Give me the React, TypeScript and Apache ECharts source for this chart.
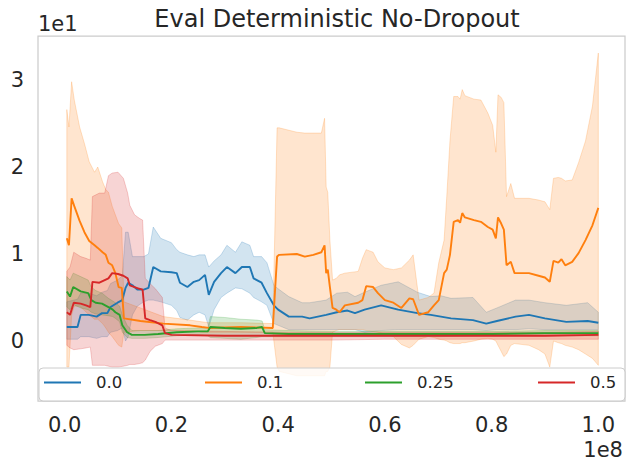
import React, { useEffect, useRef } from "react";
import * as echarts from "echarts";

// ---------- data (x in units of 1e8 steps, y in units of 1e1 return) ----------
const SERIES_NAMES = ["0.0", "0.1", "0.25", "0.5"];
const X_TICKS = [0, 0.2, 0.4, 0.6, 0.8, 1.0];
const X_TICK_LABELS = ["0.0", "0.2", "0.4", "0.6", "0.8", "1.0"];
const Y_TICKS = [0, 1, 2, 3];
const Y_TICK_LABELS = ["0", "1", "2", "3"];
const X_OFFSET_LABEL = "1e8";
const Y_OFFSET_LABEL = "1e1";
const TITLE = "Eval Deterministic No-Dropout";

// dropout 0.0 (blue)
const stepsA = [0.004, 0.024, 0.03, 0.045, 0.06, 0.07, 0.08, 0.086, 0.099, 0.108, 0.114, 0.119, 0.127, 0.136, 0.148, 0.157, 0.166, 0.18, 0.2, 0.21, 0.216, 0.23, 0.242, 0.252, 0.263, 0.27, 0.28, 0.293, 0.304, 0.32, 0.332, 0.347, 0.354, 0.369, 0.379, 0.392, 0.4, 0.42, 0.445, 0.459, 0.49, 0.51, 0.53, 0.544, 0.562, 0.593, 0.625, 0.661, 0.686, 0.705, 0.724, 0.765, 0.79, 0.81, 0.845, 0.87, 0.9, 0.94, 0.98, 1.0];
const meanA = [0.16, 0.16, 0.3, 0.3, 0.28, 0.32, 0.32, 0.39, 0.44, 0.47, 0.61, 0.67, 0.64, 0.59, 0.59, 0.61, 0.85, 0.8, 0.79, 0.78, 0.67, 0.62, 0.68, 0.7, 0.76, 0.53, 0.68, 0.78, 0.85, 0.78, 0.85, 0.85, 0.72, 0.67, 0.55, 0.41, 0.36, 0.28, 0.28, 0.26, 0.3, 0.33, 0.35, 0.32, 0.36, 0.41, 0.36, 0.32, 0.3, 0.28, 0.26, 0.24, 0.2, 0.23, 0.28, 0.3, 0.26, 0.22, 0.23, 0.21];
const lowA = [0.02, 0.02, 0.05, 0.05, 0.03, 0.05, 0.05, 0.1, 0.12, 0.15, 0.0, 0.05, 0.3, 0.4, 0.45, 0.47, 0.47, 0.45, 0.41, 0.35, 0.27, 0.24, 0.3, 0.33, 0.3, 0.16, 0.36, 0.5, 0.55, 0.61, 0.6, 0.55, 0.5, 0.45, 0.41, 0.2, 0.18, 0.13, 0.13, 0.13, 0.13, 0.13, 0.13, 0.13, 0.1, 0.12, 0.13, 0.13, 0.13, 0.13, 0.13, 0.13, 0.12, 0.13, 0.13, 0.14, 0.13, 0.13, 0.13, 0.13];
const highA = [0.45, 0.48, 0.55, 0.55, 0.52, 0.56, 0.58, 0.66, 0.7, 0.75, 1.25, 1.25, 0.97, 0.97, 0.97, 1.0, 1.31, 1.18, 1.13, 1.05, 1.02, 0.99, 0.97, 0.99, 0.99, 0.85, 0.92, 0.99, 1.1, 1.02, 1.14, 1.1, 0.97, 0.97, 0.9, 0.64, 0.6, 0.51, 0.44, 0.44, 0.47, 0.55, 0.56, 0.51, 0.56, 0.64, 0.68, 0.56, 0.51, 0.52, 0.49, 0.5, 0.33, 0.38, 0.47, 0.47, 0.44, 0.41, 0.44, 0.33];

// dropout 0.1 (orange)
const stepsB = [0.004, 0.008, 0.013, 0.018, 0.028, 0.037, 0.046, 0.056, 0.062, 0.071, 0.077, 0.082, 0.089, 0.095, 0.101, 0.107, 0.111, 0.142, 0.185, 0.235, 0.257, 0.27, 0.33, 0.39, 0.398, 0.402, 0.435, 0.45, 0.466, 0.481, 0.487, 0.49, 0.493, 0.497, 0.502, 0.509, 0.515, 0.525, 0.55, 0.558, 0.565, 0.578, 0.587, 0.6, 0.616, 0.631, 0.646, 0.653, 0.664, 0.681, 0.692, 0.701, 0.711, 0.716, 0.722, 0.729, 0.737, 0.741, 0.745, 0.75, 0.767, 0.78, 0.793, 0.802, 0.808, 0.812, 0.818, 0.823, 0.828, 0.836, 0.843, 0.87, 0.888, 0.9, 0.909, 0.916, 0.925, 0.931, 0.938, 0.951, 0.963, 0.976, 0.989, 1.0];
const meanB = [1.18, 1.1, 1.64, 1.55, 1.38, 1.25, 1.15, 1.1, 1.07, 1.02, 0.99, 0.9, 0.87, 0.78, 0.62, 0.61, 0.26, 0.23, 0.2, 0.18, 0.16, 0.15, 0.16, 0.15, 0.97, 0.99, 1.0, 0.97, 0.99, 1.02, 1.1, 0.78, 0.82, 0.62, 0.38, 0.36, 0.33, 0.41, 0.44, 0.47, 0.63, 0.62, 0.55, 0.47, 0.44, 0.38, 0.49, 0.48, 0.3, 0.33, 0.41, 0.47, 0.78, 0.82, 0.99, 1.37, 1.39, 1.36, 1.47, 1.42, 1.39, 1.37, 1.31, 1.28, 1.18, 1.42, 1.35, 1.28, 0.87, 0.91, 0.78, 0.78, 0.75, 0.73, 0.68, 0.92, 0.9, 0.94, 0.87, 0.91, 1.01, 1.16, 1.33, 1.53];
const lowB = [-0.3, -0.3, 0.3, 0.4, 0.4, 0.35, 0.3, 0.25, 0.25, 0.2, 0.15, 0.1, 0.05, 0.0, -0.05, -0.07, 0.1, 0.12, 0.12, 0.12, 0.1, 0.1, 0.1, 0.1, -0.3, -0.35, -0.4, -0.4, -0.4, -0.4, -0.4, -0.35, -0.35, -0.3, 0.1, 0.12, 0.13, 0.13, 0.13, 0.13, 0.12, 0.11, 0.1, 0.08, 0.05, -0.04, -0.08, -0.05, 0.02, 0.05, 0.04, 0.02, 0.01, 0.0, -0.02, -0.03, -0.03, -0.03, -0.02, -0.02, 0.0, 0.02, 0.03, 0.02, 0.0, -0.05, -0.12, -0.18, -0.15, -0.05, -0.03, -0.05, -0.1, -0.15, -0.3, 0.0, -0.02, -0.03, -0.05, -0.07, -0.1, -0.15, -0.2, -0.28];
const highB = [2.66, 2.46, 2.98, 2.77, 2.46, 2.27, 2.06, 1.94, 2.0, 1.83, 1.74, 1.71, 1.55, 1.45, 1.35, 1.3, 0.45, 0.38, 0.28, 0.24, 0.22, 0.21, 0.21, 0.2, 2.45, 2.45, 2.4, 2.39, 2.39, 2.39, 2.56, 1.77, 1.71, 1.16, 0.7, 0.72, 0.76, 0.78, 0.8, 0.95, 1.05, 1.02, 0.91, 0.84, 0.82, 0.84, 0.93, 0.99, 0.47, 0.5, 0.55, 0.9, 1.16, 1.66, 2.3, 2.81, 2.81, 2.78, 2.89, 2.82, 2.78, 2.77, 2.62, 2.48, 2.17, 2.83, 2.8, 2.74, 1.66, 1.81, 1.64, 1.64, 1.62, 1.6, 1.51, 1.87, 1.88, 1.87, 1.84, 1.85, 2.05, 2.3, 2.7, 3.31];

// dropout 0.25 (green)
const stepsC = [0.004, 0.01, 0.016, 0.03, 0.044, 0.05, 0.058, 0.07, 0.082, 0.09, 0.095, 0.103, 0.108, 0.117, 0.126, 0.15, 0.175, 0.21, 0.25, 0.268, 0.273, 0.3, 0.33, 0.36, 0.37, 0.375, 0.42, 0.5, 0.6, 0.7, 0.8, 0.9, 1.0];
const meanC = [0.57, 0.51, 0.62, 0.57, 0.55, 0.47, 0.44, 0.43, 0.39, 0.36, 0.33, 0.3, 0.18, 0.1, 0.07, 0.07, 0.08, 0.1, 0.11, 0.11, 0.16, 0.15, 0.14, 0.15, 0.16, 0.09, 0.08, 0.08, 0.08, 0.08, 0.08, 0.09, 0.09];
const lowC = [0.39, 0.36, 0.42, 0.38, 0.36, 0.33, 0.31, 0.3, 0.29, 0.28, 0.26, 0.22, 0.1, 0.04, 0.03, 0.03, 0.04, 0.06, 0.07, 0.06, 0.04, 0.03, 0.02, 0.04, 0.05, 0.05, 0.05, 0.05, 0.05, 0.05, 0.06, 0.06, 0.06];
const highC = [0.74, 0.7, 0.78, 0.74, 0.7, 0.62, 0.58, 0.55, 0.49, 0.46, 0.44, 0.4, 0.3, 0.18, 0.12, 0.12, 0.12, 0.14, 0.15, 0.15, 0.28, 0.27, 0.25, 0.24, 0.23, 0.13, 0.12, 0.11, 0.11, 0.11, 0.11, 0.12, 0.12];

// dropout 0.5 (red)
const stepsD = [0.004, 0.01, 0.017, 0.03, 0.04, 0.048, 0.052, 0.065, 0.075, 0.082, 0.089, 0.1, 0.11, 0.118, 0.122, 0.131, 0.14, 0.146, 0.151, 0.16, 0.17, 0.183, 0.188, 0.2, 0.3, 0.4, 0.5, 0.6, 0.7, 0.8, 0.9, 1.0];
const meanD = [0.33, 0.3, 0.44, 0.43, 0.41, 0.39, 0.68, 0.67, 0.7, 0.72, 0.78, 0.77, 0.75, 0.72, 0.64, 0.62, 0.6, 0.59, 0.26, 0.24, 0.22, 0.18, 0.09, 0.07, 0.06, 0.06, 0.06, 0.06, 0.06, 0.06, 0.06, 0.07];
const lowD = [-0.05, -0.08, -0.1, -0.09, -0.08, -0.07, -0.28, -0.28, -0.28, -0.29, -0.3, -0.3, -0.29, -0.28, -0.27, -0.27, -0.26, -0.25, -0.22, -0.12, -0.06, -0.03, 0.01, 0.01, 0.01, 0.01, 0.01, 0.02, 0.02, 0.02, 0.02, 0.02];
const highD = [0.8, 0.85, 1.02, 0.97, 0.95, 0.93, 1.66, 1.7, 1.7, 1.9, 1.93, 1.94, 1.87, 1.7, 1.56, 1.45, 1.41, 1.39, 0.72, 0.66, 0.6, 0.5, 0.15, 0.12, 0.11, 0.1, 0.1, 0.1, 0.1, 0.1, 0.1, 0.11];

// ---------- styling ----------
const COLORS = ["#1f77b4", "#ff7f0e", "#2ca02c", "#d62728"];
const TEXT = "#262626";
const FONT = "DejaVu Sans";
const LEGEND_LEFT = [44, 205, 365, 538];

function rgba(hex: string, a: number) {
  const n = parseInt(hex.slice(1), 16);
  return `rgba(${(n >> 16) & 255},${(n >> 8) & 255},${n & 255},${a})`;
}

function bandSeries(xs: number[], lo: number[], hi: number[], color: string) {
  return {
    type: "custom",
    silent: true,
    clip: true,
    z: 1,
    data: xs.map((x, i) => [x, lo[i], hi[i]]),
    encode: { x: 0, y: [1, 2] },
    renderItem: (params: any, api: any) => {
      if (params.dataIndex !== 0) return null;
      const top = xs.map((x, i) => api.coord([x, hi[i]]));
      const bot = xs.map((x, i) => api.coord([x, lo[i]])).reverse();
      return {
        type: "polygon",
        shape: { points: top.concat(bot) },
        style: { fill: rgba(color, 0.2), stroke: rgba(color, 0.22), lineWidth: 1 },
      };
    },
  };
}

function lineSeries(name: string, xs: number[], ys: number[], color: string) {
  return {
    type: "line",
    name,
    data: xs.map((x, i) => [x, ys[i]]),
    symbol: "none",
    showSymbol: false,
    z: 3,
    color,
    lineStyle: { color, width: 1.9 },
  };
}

function labelFor(values: number[], labels: string[], v: number) {
  let best = 0;
  for (let i = 0; i < values.length; i++) {
    if (Math.abs(values[i] - v) < Math.abs(values[best] - v)) best = i;
  }
  return labels[best];
}

export default function App() {
  const ref = useRef<HTMLDivElement>(null);
  useEffect(() => {
    if (!ref.current) return;
    const chart = echarts.init(ref.current, null, { renderer: "svg" });
    const steps = [stepsA, stepsB, stepsC, stepsD];
    const means = [meanA, meanB, meanC, meanD];
    const lows = [lowA, lowB, lowC, lowD];
    const highs = [highA, highB, highC, highD];
    const series: any[] = [];
    for (let i = 0; i < 4; i++) series.push(bandSeries(steps[i], lows[i], highs[i], COLORS[i]));
    for (let i = 0; i < 4; i++) series.push(lineSeries(SERIES_NAMES[i], steps[i], means[i], COLORS[i]));

    chart.setOption({
      animation: false,
      textStyle: { fontFamily: FONT },
      title: {
        text: TITLE,
        left: 332,
        top: 2,
        textAlign: "center",
        textStyle: { fontSize: 24, fontWeight: "normal", color: TEXT, fontFamily: FONT },
      },
      grid: {
        left: 38,
        right: 10,
        top: 36,
        bottom: 73,
        show: true,
        borderColor: "#cccccc",
        borderWidth: 1.25,
        backgroundColor: "transparent",
      },
      xAxis: {
        type: "value",
        min: -0.05,
        max: 1.05,
        axisLine: { show: false },
        axisTick: { show: false },
        splitLine: { show: false },
        axisLabel: {
          customValues: X_TICKS,
          formatter: (v: number) => labelFor(X_TICKS, X_TICK_LABELS, v),
          fontSize: 21,
          color: TEXT,
          fontFamily: FONT,
          margin: 13,
        },
      },
      yAxis: {
        type: "value",
        min: -0.69,
        max: 3.506,
        axisLine: { show: false },
        axisTick: { show: false },
        splitLine: { show: false },
        axisLabel: {
          customValues: Y_TICKS,
          formatter: (v: number) => labelFor(Y_TICKS, Y_TICK_LABELS, v),
          fontSize: 21,
          color: TEXT,
          fontFamily: FONT,
          margin: 14,
        },
      },
      legend: SERIES_NAMES.map((n, i) => ({
        data: [n],
        left: LEGEND_LEFT[i],
        top: 374,
        padding: 0,
        icon: "rect",
        itemWidth: 37,
        itemHeight: 2,
        selectedMode: false,
        z: 20,
        textStyle: { fontSize: 16.5, color: TEXT, fontFamily: FONT, padding: [0, 0, 0, 10] },
      })),
      graphic: [
        {
          type: "rect",
          z: 10,
          shape: { x: 39, y: 368, width: 586, height: 33, r: 4 },
          style: { fill: "rgba(255,255,255,0.8)", stroke: "#cccccc", lineWidth: 1 },
        },
        {
          type: "text",
          z: 10,
          x: 38,
          y: 13,
          style: { text: Y_OFFSET_LABEL, fontSize: 21, fill: TEXT, fontFamily: FONT, textAlign: "left", textVerticalAlign: "top" },
        },
        {
          type: "text",
          z: 10,
          x: 623,
          y: 439,
          style: { text: X_OFFSET_LABEL, fontSize: 21, fill: TEXT, fontFamily: FONT, textAlign: "right", textVerticalAlign: "top" },
        },
      ],
      series,
    });
    return () => chart.dispose();
  }, []);
  return <div ref={ref} style={{ position: "absolute", left: 0, top: 0, width: 635, height: 474 }} />;
}
